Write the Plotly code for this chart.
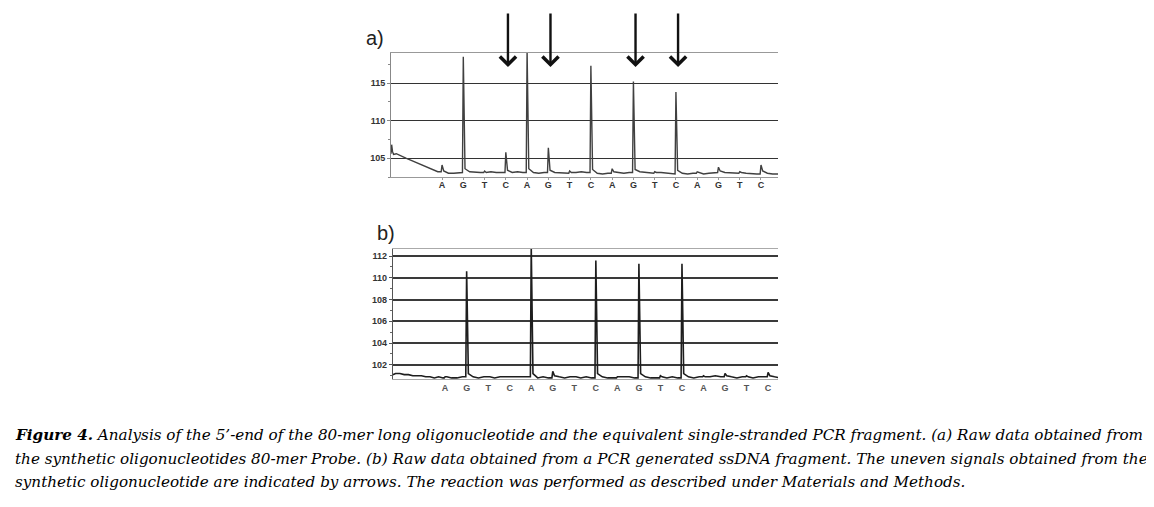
import plotly.graph_objects as go

W, H = 1154, 507
OX, OY = 8, 8  # page body margin

# ---------------- data ----------------
flows = list(range(1, 17))
letters = ["A", "G", "T", "C", "A", "G", "T", "C", "A", "G", "T", "C", "A", "G", "T", "C"]

# panel a : synthetic oligonucleotide 80-mer probe
a_lead_x = [-1.40, -1.37, -1.33, -1.28, -1.15, -0.95, -0.70, -0.45, -0.20, 0.05, 0.30, 0.55, 0.80]
a_lead_y = [105.6, 106.8, 105.9, 105.5, 105.6, 105.3, 105.0, 104.7, 104.4, 104.1, 103.8, 103.5, 103.2]
a_peak = [104.1, 118.5, 103.3, 105.8, 119.3, 106.4, 103.3, 117.3, 103.6, 115.2, 103.2, 113.8, 103.2, 103.8, 103.2, 104.1]
a_tail = [103.3, 103.6, 103.1, 103.4, 103.6, 103.4, 103.1, 103.5, 103.2, 103.5, 103.1, 103.4, 103.1, 103.3, 103.1, 103.3]
a_noise = [
    [103.0, 103.0, 103.1], [103.2, 103.1, 103.1], [103.2, 103.1, 103.1], [103.1, 103.2, 103.1],
    [103.1, 103.0, 103.1], [103.1, 103.1, 103.0], [103.1, 103.2, 103.1], [103.0, 102.9, 103.0],
    [103.1, 103.0, 103.1], [103.2, 103.1, 103.0], [103.1, 103.0, 102.9], [103.0, 102.9, 103.0],
    [102.9, 103.0, 103.1], [103.1, 103.1, 103.0], [103.0, 102.9, 102.9], [103.0, 102.9, 102.9],
]

# panel b : PCR generated ssDNA fragment
b_lead_x = [-1.42, -1.30, -1.10, -0.90, -0.70, -0.50, -0.30, -0.10, 0.10, 0.30, 0.50, 0.70, 0.90]
b_lead_y = [101.1, 101.2, 101.2, 101.1, 101.1, 101.0, 101.0, 101.0, 100.9, 100.9, 100.8, 100.9, 100.8]
b_peak = [100.9, 110.6, 100.9, 100.9, 112.9, 101.4, 100.9, 111.6, 100.9, 111.3, 101.0, 111.3, 101.0, 101.2, 101.0, 101.3]
b_tail = [100.9, 101.2, 100.9, 100.9, 101.2, 101.0, 100.9, 101.2, 100.9, 101.2, 100.9, 101.2, 100.9, 101.0, 100.9, 101.0]
b_noise = [
    [100.8, 100.8, 100.9], [100.9, 100.8, 100.9], [100.8, 100.9, 100.9], [100.9, 100.9, 100.9],
    [100.8, 100.9, 100.8], [100.9, 100.8, 100.9], [100.8, 100.9, 100.8], [100.9, 100.8, 100.8],
    [100.9, 100.9, 100.8], [100.9, 100.8, 100.8], [100.8, 100.9, 100.8], [100.9, 100.8, 100.9],
    [100.9, 101.0, 100.9], [100.9, 100.8, 100.9], [100.8, 100.9, 100.9], [100.9, 100.8, 100.9],
]

a_yticks = [105, 110, 115]
b_yticks = [102, 104, 106, 108, 110, 112]
arrow_flows = [4, 6, 10, 12]

caption = [
    "<b>Figure 4.</b> Analysis of the 5\u2019-end of the 80-mer long oligonucleotide and the equivalent single-stranded PCR fragment. (a) Raw data obtained from",
    "the synthetic oligonucleotides 80-mer Probe. (b) Raw data obtained from a PCR generated ssDNA fragment. The uneven signals obtained from the",
    "synthetic oligonucleotide are indicated by arrows. The reaction was performed as described under Materials and Methods.",
]


def build(lead_x, lead_y, peaks, tails, noise):
    xs, ys = list(lead_x), list(lead_y)
    for f, p, t, n in zip(flows, peaks, tails, noise):
        xs += [f - 0.04, f, f + 0.08, f + 0.3, f + 0.55, f + 0.8]
        ys += [ys[-1], p, t, n[0], n[1], n[2]]
    return xs, ys


ax_, ay_ = build(a_lead_x, a_lead_y, a_peak, a_tail, a_noise)
bx_, by_ = build(b_lead_x, b_lead_y, b_peak, b_tail, b_noise)


def px(x):
    return (x - OX) / W


def py(y):
    return 1 - (y - OY) / H


fig = go.Figure()
fig.add_trace(go.Scatter(x=ax_, y=ay_, mode="lines", line=dict(color="#404040", width=1.4),
                         xaxis="x", yaxis="y", hoverinfo="skip", showlegend=False))
fig.add_trace(go.Scatter(x=bx_, y=by_, mode="lines", line=dict(color="#1e1e1e", width=1.6),
                         xaxis="x2", yaxis="y2", hoverinfo="skip", showlegend=False))

tickfont = dict(family="Arial", size=9, color="#333", weight="bold")
fig.update_layout(
    width=W, height=H, margin=dict(l=0, r=0, t=0, b=0),
    paper_bgcolor="white", plot_bgcolor="white", showlegend=False,
    xaxis=dict(domain=[px(391), px(778)], range=[-1.4, 16.8], tickvals=flows, ticktext=letters,
               tickfont=tickfont, showgrid=False, zeroline=False, showline=True, linecolor="#999",
               linewidth=1, mirror=True, ticks="outside", ticklen=2, tickcolor="#999",
               ticklabelstandoff=-3, anchor="y"),
    yaxis=dict(domain=[py(177), py(53)], range=[102.5, 119], tickvals=a_yticks,
               tickfont=tickfont, showgrid=True, gridcolor="#333", gridwidth=1.3, zeroline=False,
               showline=True, linecolor="#888", linewidth=1, ticks="outside", ticklen=3,
               tickcolor="#888", minor=dict(dtick=2.5, tick0=0, ticks="outside", ticklen=2,
                                            tickcolor="#888", showgrid=False), anchor="x"),
    xaxis2=dict(domain=[px(393), px(778)], range=[-1.42, 16.46], tickvals=flows, ticktext=letters,
                tickfont=dict(family="Arial", size=9, color="#555", weight="bold"),
                showgrid=False, zeroline=False, showline=True, linecolor="#aaa", linewidth=1,
                mirror=True, ticks="", anchor="y2"),
    yaxis2=dict(domain=[py(379), py(249)], range=[100.7, 112.65], tickvals=b_yticks,
                tickfont=tickfont, showgrid=True, gridcolor="#3a3a3a", gridwidth=1.5, zeroline=False,
                showline=True, linecolor="#555", linewidth=1.2, ticks="outside", ticklen=3,
                tickcolor="#555", minor=dict(dtick=1, tick0=0, ticks="outside", ticklen=2,
                                             tickcolor="#666", showgrid=False), anchor="x2"),
)

annotations = []
for f in arrow_flows:
    annotations.append(dict(x=f + 0.1, y=py(67), xref="x", yref="paper", ax=0, ay=-55,
                            showarrow=True, arrowhead=4, arrowsize=1.3, arrowwidth=2.4,
                            arrowcolor="#111", text=""))
annotations.append(dict(x=px(375), y=py(38), xref="paper", yref="paper", text="a)",
                        xanchor="center", yanchor="middle", showarrow=False,
                        font=dict(family="Arial", size=20, color="#222")))
annotations.append(dict(x=px(386), y=py(233), xref="paper", yref="paper", text="b)",
                        xanchor="center", yanchor="middle", showarrow=False,
                        font=dict(family="Arial", size=20, color="#222")))
for i, line in enumerate(caption):
    annotations.append(dict(x=px(13), y=py(435 + i * 23.5), xref="paper", yref="paper",
                            xanchor="left", yanchor="middle", text="<i>" + line + "</i>",
                            showarrow=False,
                            font=dict(family="DejaVu Serif", size=15.2, color="#000")))
fig.update_layout(annotations=annotations)

fig.write_html("out.html")
